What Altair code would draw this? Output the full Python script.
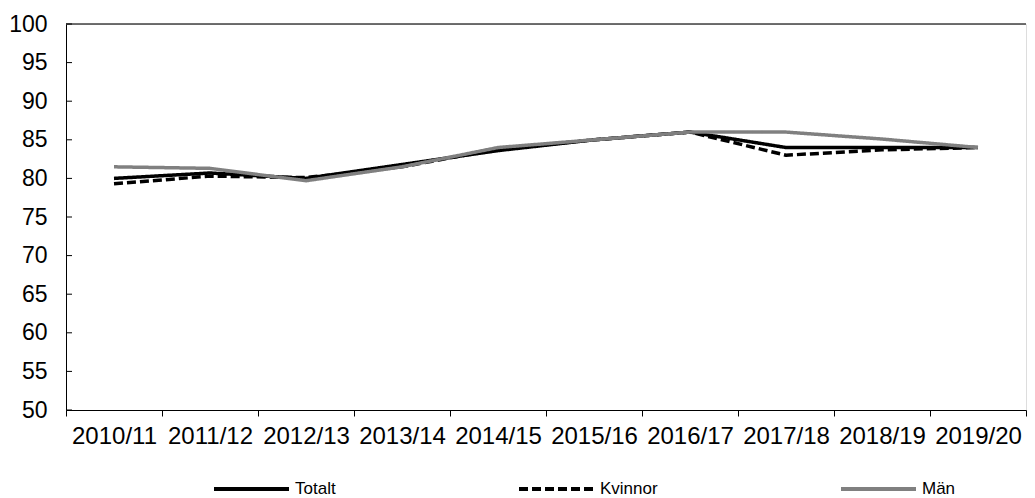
import altair as alt
import pandas as pd

years = ["2010/11", "2011/12", "2012/13", "2013/14", "2014/15",
         "2015/16", "2016/17", "2017/18", "2018/19", "2019/20"]
totalt = [80.0, 80.7, 80.0, 81.8, 83.6, 85.0, 86.0, 84.0, 84.0, 84.0]
kvinnor = [79.3, 80.3, 80.1, 81.5, 83.8, 85.0, 86.0, 83.0, 83.7, 84.0]
man = [81.5, 81.3, 79.7, 81.5, 84.0, 85.0, 86.0, 86.0, 85.1, 84.0]
series_names = ["Totalt", "Kvinnor", "Män"]
y_ticks = [50, 55, 60, 65, 70, 75, 80, 85, 90, 95, 100]

rows = []
for name, vals in zip(series_names, [totalt, kvinnor, man]):
    for yr, v in zip(years, vals):
        rows.append({"year": yr, "value": v, "serie": name})
df = pd.DataFrame(rows)

FONT = "Liberation Sans"
W, H = 960, 386

yscale = alt.Scale(domain=[50, 100], nice=False, zero=False)
y_axis = alt.Axis(values=y_ticks, tickSize=0, labelPadding=19,
                  domainColor="#000000", labelFont=FONT,
                  labelOverlap=False, title=None,
                  labelFontSize=23, labelColor="#000000", grid=False)

legend_kw = dict(title=None, orient="none", direction="horizontal",
                 legendX=146, legendY=454, padding=0,
                 symbolType="M-1,0H7.333", symbolSize=324,
                 symbolStrokeWidth=4, labelOffset=61,
                 columnPadding=175, labelFont=FONT,
                 labelFontSize=17, labelColor="#000000")

lines = alt.Chart(df).mark_line(strokeWidth=3.5, strokeJoin="round").encode(
    x=alt.X("year:N", sort=years, title=None, bandPosition=0.5,
            scale=alt.Scale(type="band", paddingInner=0, paddingOuter=0),
            axis=alt.Axis(labelAngle=0, tickBand="extent", tickSize=6,
                          tickColor="#000000", domainColor="#000000",
                          labelFont=FONT, labelFontSize=24, labelColor="#000000",
                          labelPadding=8, labelOverlap=False, grid=False)),
    y=alt.Y("value:Q", scale=yscale, title=None, axis=y_axis),
    color=alt.Color("serie:N", sort=series_names,
                    scale=alt.Scale(domain=series_names,
                                    range=["#000000", "#000000", "#808080"]),
                    legend=alt.Legend(**legend_kw)),
    strokeDash=alt.StrokeDash("serie:N", sort=series_names,
                              scale=alt.Scale(domain=series_names,
                                              range=[[1, 0], [9, 4], [1, 0]]),
                              legend=alt.Legend(**legend_kw)),
    order=alt.Order("serie:N", sort="ascending"),
)

top_rule = alt.Chart(pd.DataFrame({"value": [100]})).mark_rule(
    color="#404040", strokeWidth=1.5).encode(
    y=alt.Y("value:Q", scale=yscale, title=None, axis=y_axis))

tick_df = pd.DataFrame({"value": y_ticks})
yticks = alt.Chart(tick_df).mark_rule(color="#000000", strokeWidth=1).encode(
    y=alt.Y("value:Q", scale=yscale, title=None, axis=y_axis),
    x=alt.value(0), x2=alt.value(6))

chart = alt.layer(lines, top_rule, yticks).properties(
    width=W, height=H,
    padding={"left": 0, "top": 5, "right": 0, "bottom": 0},
).configure_view(stroke=None).configure(background="white")

chart.save("out.html", embed_options={"renderer": "svg", "actions": False})
